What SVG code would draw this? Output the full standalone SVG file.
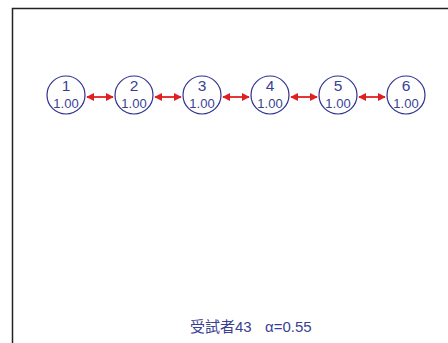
<svg xmlns="http://www.w3.org/2000/svg" width="448" height="343" viewBox="0 0 448 343">
<style>
.node circle{fill:#fff;stroke:#2e3192;stroke-width:1.2}
.num{font-family:"Liberation Sans",Arial,sans-serif;font-size:15.5px;fill:#3a3f94;text-anchor:middle}
.val{font-family:"Liberation Sans",Arial,sans-serif;font-size:13px;fill:#3a3f94;text-anchor:middle}
.edge{stroke:#e02020;stroke-width:1.8;fill:none;marker-start:url(#ah);marker-end:url(#ah)}
.cap{font-family:"Liberation Sans","Noto Sans CJK TC",sans-serif;font-size:15px;fill:#3a3f94}
</style>
<defs>
<marker id="ah" viewBox="0 0 10 10" refX="9" refY="5" markerWidth="4.5" markerHeight="4.5" orient="auto-start-reverse">
<path d="M0,0 L10,5 L0,10 z" fill="#e02020"/>
</marker>
</defs>
<rect width="448" height="343" fill="#fff"/>
<path d="M12.5,360 V8.5 H460" fill="none" stroke="#222" stroke-width="1.5"/>
<g id="connectors">
<line class="edge" x1="87" y1="97" x2="113" y2="97"/>
<line class="edge" x1="155" y1="97" x2="181" y2="97"/>
<line class="edge" x1="223" y1="97" x2="249" y2="97"/>
<line class="edge" x1="291" y1="97" x2="317" y2="97"/>
<line class="edge" x1="359" y1="97" x2="385" y2="97"/>
</g>
<g id="n1" class="node"><circle cx="66" cy="95" r="19"/><text class="num" x="66" y="91">1</text><text class="val" x="66" y="108">1.00</text></g>
<g id="n2" class="node"><circle cx="134" cy="95" r="19"/><text class="num" x="134" y="91">2</text><text class="val" x="134" y="108">1.00</text></g>
<g id="n3" class="node"><circle cx="202" cy="95" r="19"/><text class="num" x="202" y="91">3</text><text class="val" x="202" y="108">1.00</text></g>
<g id="n4" class="node"><circle cx="270" cy="95" r="19"/><text class="num" x="270" y="91">4</text><text class="val" x="270" y="108">1.00</text></g>
<g id="n5" class="node"><circle cx="338" cy="95" r="19"/><text class="num" x="338" y="91">5</text><text class="val" x="338" y="108">1.00</text></g>
<g id="n6" class="node"><circle cx="406" cy="95" r="19"/><text class="num" x="406" y="91">6</text><text class="val" x="406" y="108">1.00</text></g>
<text class="cap" x="190" y="332">受試者43</text>
<text class="cap" x="265" y="332">α=0.55</text>
</svg>
